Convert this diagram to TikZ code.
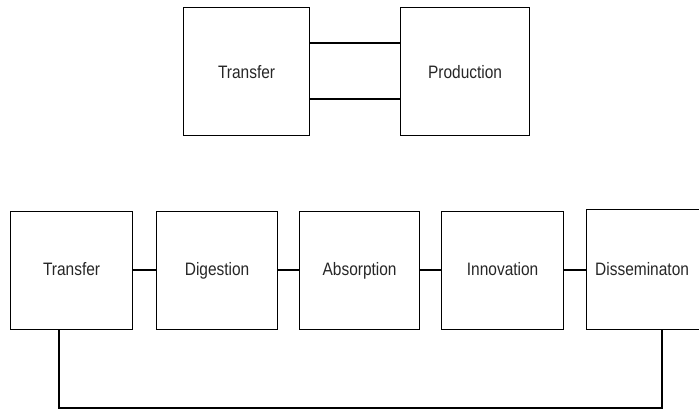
\documentclass[tikz,border=0pt]{standalone}
\usepackage{fontspec}
\setmainfont{Liberation Sans}[FakeStretch=0.86]
\begin{document}
\begin{tikzpicture}[x=1pt,y=-1pt,
  block/.style={draw, line width=1.2pt, inner sep=0pt, anchor=north west},
  link/.style={line width=1.2pt},
  lbl/.style={font=\fontsize{18}{21}\selectfont, text=black!85, anchor=base, inner sep=0pt}]
\useasboundingbox (0,0) rectangle (699,409);
\clip (0,0) rectangle (699,409);
% upper pair
\node[block, minimum width=126pt, minimum height=128pt] (t1) at (183,7) {};
\node[lbl] at ([yshift=-6.5pt]t1.center) {Transfer};
\node[block, minimum width=129pt, minimum height=128pt] (p1) at (400,7) {};
\node[lbl] at ([yshift=-6.5pt]p1.center) {Production};
\draw[link] (t1.east |- 0,43) coordinate (a1) -- (a1 -| p1.west);
\draw[link] (t1.east |- 0,99) coordinate (a2) -- (a2 -| p1.west);
% lower chain
\node[block, minimum width=122pt, minimum height=118pt] (t2) at (10,211) {};
\node[block, minimum width=121pt, minimum height=118pt] (d2) at (156,211) {};
\node[block, minimum width=120pt, minimum height=118pt] (ab) at (299,211) {};
\node[block, minimum width=122pt, minimum height=118pt] (in) at (441,211) {};
\node[block, minimum width=122pt, minimum height=120pt] (ds) at (586,209) {};
\node[lbl] at (t2.center |- 0,275) {Transfer};
\node[lbl] at (d2.center |- 0,275) {Digestion};
\node[lbl] at (ab.center |- 0,275) {Absorption};
\node[lbl] at (in.center |- 0,275) {Innovation};
\node[lbl, anchor=base west] at (595,275) {Disseminaton};
\foreach \u/\v in {t2/d2, d2/ab, ab/in, in/ds}
  \draw[link] (\u.east |- 0,270) coordinate (c) -- (c -| \v.west);
% feedback loop
\draw[link] (t2.south -| 59,0) coordinate (f1) -- (59,408) -- (662,408) -- (ds.south -| 662,0);
\end{tikzpicture}
\end{document}
